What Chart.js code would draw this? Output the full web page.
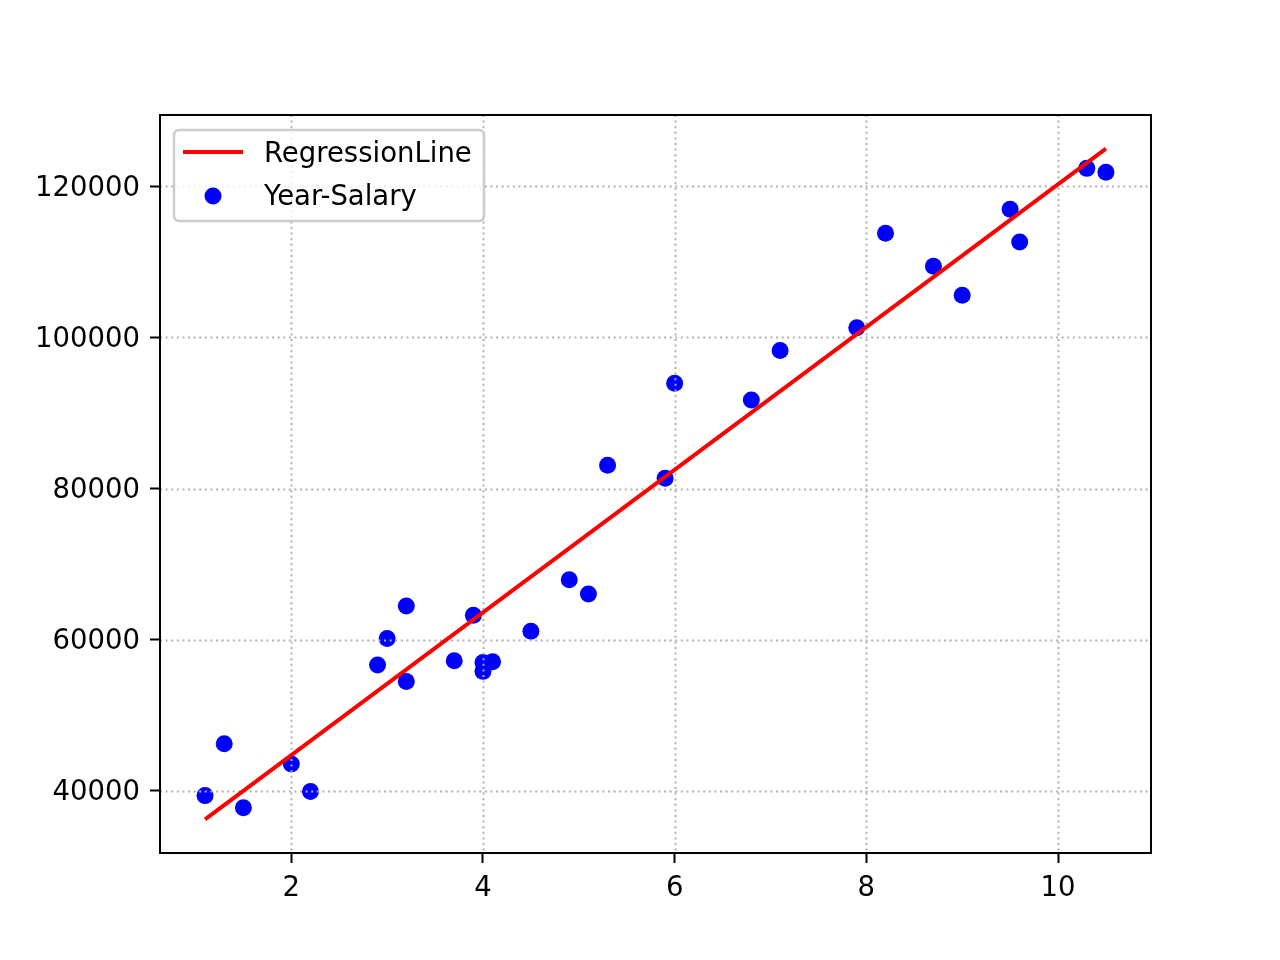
<!DOCTYPE html>
<html>
<head>
<meta charset="utf-8">
<script src="https://cdn.jsdelivr.net/npm/chart.js@4"></script>
<style>
  html, body { margin: 0; padding: 0; background: #fff; }
  #wrap { width: 1280px; height: 960px; }
</style>
</head>
<body>
<div id="wrap"><canvas id="salaryChart" width="1280" height="960"></canvas></div>
<script>
// data
const years = [1.1, 1.3, 1.5, 2.0, 2.2, 2.9, 3.0, 3.2, 3.2, 3.7, 3.9, 4.0, 4.0, 4.1, 4.5,
               4.9, 5.1, 5.3, 5.9, 6.0, 6.8, 7.1, 7.9, 8.2, 8.7, 9.0, 9.5, 9.6, 10.3, 10.5];
const salaries = [39343, 46205, 37731, 43525, 39891, 56642, 60150, 54445, 64445, 57189,
                  63218, 55794, 56957, 57081, 61111, 67938, 66029, 83088, 81363, 93940,
                  91738, 98273, 101302, 113812, 109431, 105582, 116969, 112635, 122391, 121872];
const lineYears = [1.1, 10.5];
const lineSalaries = [36187, 125016];
const xTicks = [2, 4, 6, 8, 10];
const yTicks = [40000, 60000, 80000, 100000, 120000];
const xRange = [0.63, 10.97];
const yRange = [31746, 129457];

const FONT = "DejaVu Sans";

// dotted grid goes above the dots but under the red line, like matplotlib
const gridPlugin = {
    id: "mplGrid",
    beforeDatasetDraw(chart, args) {
        if (args.index !== 0) return;
        const { ctx, chartArea: a, scales } = chart;
        ctx.save();
        ctx.strokeStyle = "#b0b0b0";
        ctx.lineWidth = 2;
        ctx.setLineDash([2, 3.6]);
        scales.x.ticks.forEach(t => {
            const px = Math.round(scales.x.getPixelForValue(t.value)) + 0.5;
            ctx.beginPath(); ctx.moveTo(px, a.top); ctx.lineTo(px, a.bottom); ctx.stroke();
        });
        scales.y.ticks.forEach(t => {
            const py = Math.round(scales.y.getPixelForValue(t.value)) + 0.5;
            ctx.beginPath(); ctx.moveTo(a.left, py); ctx.lineTo(a.right, py); ctx.stroke();
        });
        ctx.restore();
    }
};

// box round the axes + legend inside upper left
const framePlugin = {
    id: "mplFrame",
    afterDraw(chart) {
        const { ctx, chartArea: a } = chart;
        ctx.save();
        ctx.strokeStyle = "#000";
        ctx.lineWidth = 2;
        ctx.strokeRect(a.left, a.top, a.right - a.left, a.bottom - a.top);

        // legend
        ctx.beginPath();
        ctx.roundRect(174, 130, 310, 91, 5);
        ctx.fillStyle = "rgba(255,255,255,0.8)";
        ctx.fill();
        ctx.strokeStyle = "#cccccc";
        ctx.lineWidth = 2.5;
        ctx.stroke();

        const ds = chart.data.datasets;
        ctx.strokeStyle = ds[0].borderColor;
        ctx.lineWidth = 4;
        ctx.beginPath(); ctx.moveTo(183, 152); ctx.lineTo(243, 152); ctx.stroke();

        ctx.fillStyle = ds[1].backgroundColor;
        ctx.beginPath(); ctx.arc(213, 196, 8.5, 0, Math.PI * 2); ctx.fill();

        ctx.fillStyle = "#000";
        ctx.font = "27.5px '" + FONT + "'";
        ctx.textBaseline = "alphabetic";
        ctx.fillText(ds[0].label, 264, 162);
        ctx.fillText(ds[1].label, 264, 205);
        ctx.restore();
    }
};

document.addEventListener("DOMContentLoaded", function () {

    const ctx = document.getElementById("salaryChart").getContext("2d");

    new Chart(ctx, {
        type: "scatter",
        data: {
            datasets: [{
                type: "line",
                label: "RegressionLine",
                data: lineYears.map((x, i) => ({ x: x, y: lineSalaries[i] })),
                borderColor: "#ff0000",
                borderWidth: 4,
                pointRadius: 0,
                fill: false
            }, {
                label: "Year-Salary",
                data: years.map((x, i) => ({ x: x, y: salaries[i] })),
                backgroundColor: "#0000ff",
                borderWidth: 0,
                pointRadius: 8.5,
                pointHoverRadius: 8.5
            }]
        },
        options: {
            responsive: false,
            animation: false,
            devicePixelRatio: 1,
            layout: { padding: { top: 115, right: 129, left: 0, bottom: 0 } },
            plugins: {
                legend: { display: false },
                tooltip: { enabled: false }
            },
            scales: {
                x: {
                    type: "linear",
                    min: xRange[0],
                    max: xRange[1],
                    afterBuildTicks: s => { s.ticks = xTicks.map(v => ({ value: v })); },
                    afterFit: s => { s.height = 107; },
                    border: { display: false },
                    grid: {
                        drawOnChartArea: false,
                        drawTicks: true,
                        tickLength: 10,
                        tickColor: "#000",
                        tickWidth: 2
                    },
                    ticks: {
                        color: "#000",
                        padding: 9,
                        maxRotation: 0,
                        font: { family: FONT, size: 27.5 },
                        callback: v => String(v)
                    }
                },
                y: {
                    type: "linear",
                    min: yRange[0],
                    max: yRange[1],
                    afterBuildTicks: s => { s.ticks = yTicks.map(v => ({ value: v })); },
                    afterFit: s => { s.width = 160; },
                    border: { display: false },
                    grid: {
                        drawOnChartArea: false,
                        drawTicks: true,
                        tickLength: 10,
                        tickColor: "#000",
                        tickWidth: 2
                    },
                    ticks: {
                        color: "#000",
                        padding: 10,
                        labelOffset: 2,
                        font: { family: FONT, size: 27.5 },
                        callback: v => String(v)
                    }
                }
            }
        },
        plugins: [gridPlugin, framePlugin]
    });

});
</script>
</body>
</html>
